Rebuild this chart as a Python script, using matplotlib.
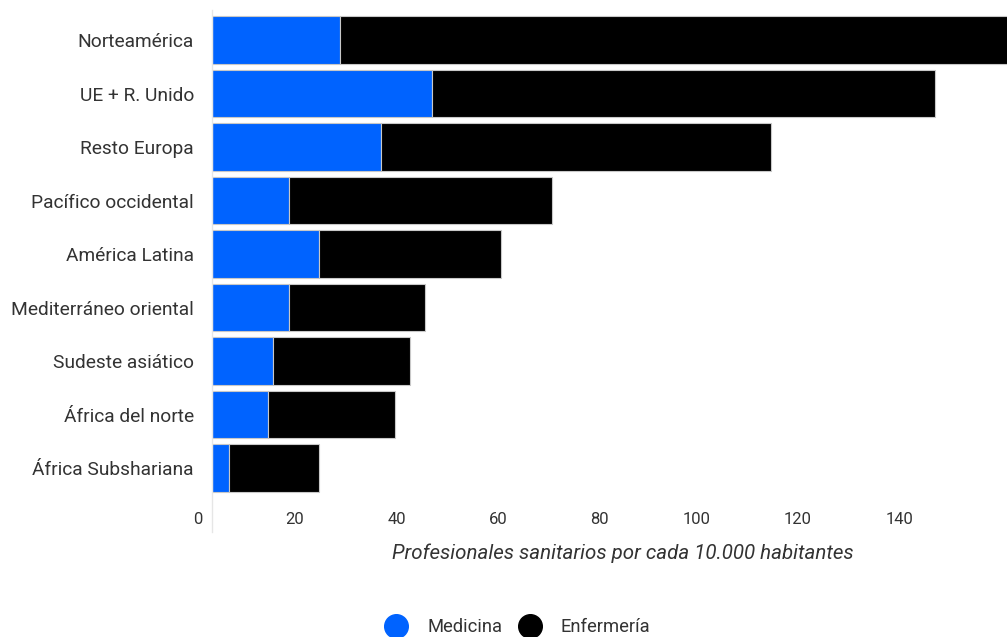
import matplotlib
matplotlib.use('Agg')
import matplotlib.pyplot as plt
import matplotlib.transforms as mtransforms
from matplotlib.lines import Line2D

plt.rcParams['font.family'] = ['Roboto', 'DejaVu Sans']

# Profesionales sanitarios por cada 10.000 habitantes
regiones = ['Norteamérica', 'UE + R. Unido', 'Resto Europa', 'Pacífico occidental',
            'América Latina', 'Mediterráneo oriental', 'Sudeste asiático',
            'África del norte', 'África Subshariana']
medicina = [25.2, 43.3, 33.3, 15.2, 21.1, 15.2, 12.0, 11.0, 3.3]
total = [166.0, 142.5, 110.1, 67.0, 56.9, 42.0, 39.0, 36.1, 21.1]
enfermeria = [t - m for t, m in zip(total, medicina)]
ticks_x = [0, 20, 40, 60, 80, 100, 120, 140]

AZUL = '#0063ff'
NEGRO = '#000000'
GRIS = '#333333'

W, H = 1007, 637
fig = plt.figure(figsize=(W / 100, H / 100), dpi=100)
ax = fig.add_axes([212 / W, 1 - 532 / H, (W - 212) / W, (532 - 10) / H])

y = list(range(len(regiones)))
ax.barh(y, medicina, height=0.89, color=AZUL, edgecolor='#c8c8c8', linewidth=0.8)
ax.barh(y, enfermeria, left=medicina, height=0.89, color=NEGRO,
        edgecolor='#c8c8c8', linewidth=0.8)

ax.set_xlim(0, 156.7)
ax.set_ylim(9.196, -0.561)

for s in ['top', 'right', 'bottom']:
    ax.spines[s].set_visible(False)
ax.spines['left'].set_color('#e6e6e6')
ax.spines['left'].set_linewidth(1.0)

ax.set_yticks(y)
ax.set_yticklabels(regiones, fontsize=13.8, color=GRIS)
ax.tick_params(axis='y', length=0, pad=13)
ax.set_xticks([])

# etiquetas del eje x a la izquierda de cada marca
trans = mtransforms.blended_transform_factory(ax.transData, ax.transAxes)
off = mtransforms.ScaledTranslation(-9 / 100, 0, fig.dpi_scale_trans)
for v in ticks_x:
    ax.text(v, 13 / 522, str(v), transform=trans + off, ha='right', va='center',
            fontsize=12, color=GRIS)

fig.text(623 / W, 1 - 553 / H, 'Profesionales sanitarios por cada 10.000 habitantes',
         ha='center', va='center', fontsize=14.8, style='italic', color=GRIS)

handles = [Line2D([], [], marker='o', linestyle='', markersize=17, color=AZUL),
           Line2D([], [], marker='o', linestyle='', markersize=17, color=NEGRO)]
fig.legend(handles, ['Medicina', 'Enfermería'], loc='center',
           bbox_to_anchor=(514 / W, 1 - 627 / H), ncol=2, frameon=False,
           fontsize=13.2, handletextpad=0.67, columnspacing=0.5, labelcolor=GRIS,
           borderpad=0.1)

fig.savefig('out.png', dpi=100)
